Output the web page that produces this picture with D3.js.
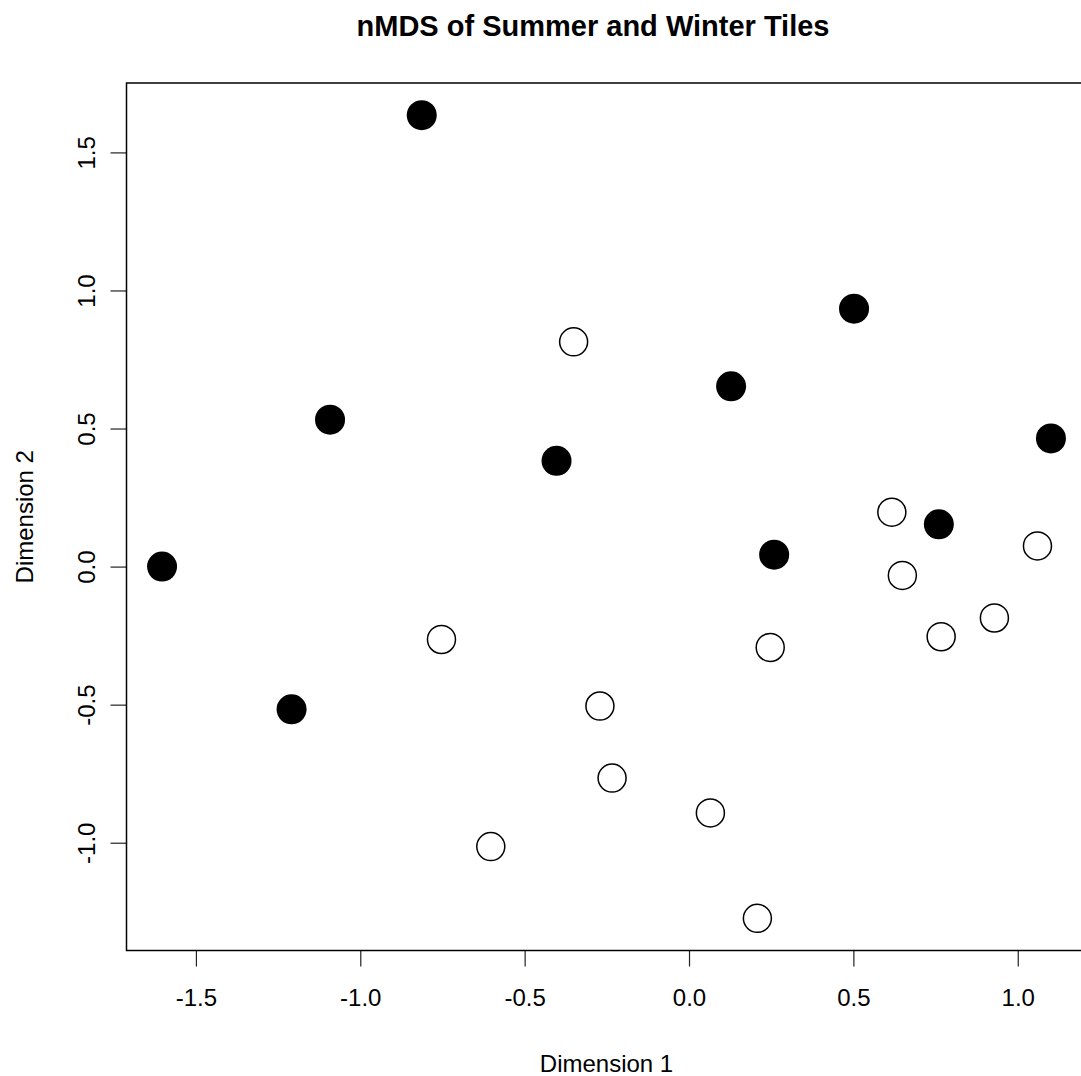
<!DOCTYPE html>
<html>
<head>
<meta charset="utf-8">
<script src="https://cdn.jsdelivr.net/npm/d3@7"></script>
<style>
body { margin: 0; background: #fff; }
text { font-family: "Liberation Sans", Arial, sans-serif; fill: #000; }
</style>
</head>
<body>
<script>
var w = 1081,
h = 1076,
// plot region (R style: data range padded 4%)
plotLeft = 126.5,
plotRight = 1086.5,
plotTop = 83,
plotBottom = 950.5;

// summer tiles (filled)
var summerX = [-0.813, -1.092, -0.403, 0.502, 0.128, 1.101, -1.603, -1.209, 0.760, 0.259];
var summerY = [1.635, 0.532, 0.383, 0.934, 0.653, 0.464, 0.000, -0.517, 0.153, 0.043];

// winter tiles (open)
var winterX = [-0.351, -0.753, -0.271, -0.234, -0.603, 0.617, 1.060, 0.649, 0.929, 0.767, 0.247, 0.065, 0.208];
var winterY = [0.814, -0.264, -0.505, -0.766, -1.014, 0.197, 0.075, -0.032, -0.186, -0.254, -0.293, -0.892, -1.274];

var xTicks = [-1.5, -1.0, -0.5, 0.0, 0.5, 1.0];
var yTicks = [-1.0, -0.5, 0.0, 0.5, 1.0, 1.5];

function padded(vals) {
    var e = d3.extent(vals), d = (e[1] - e[0]) * 0.04;
    return [e[0] - d, e[1] + d];
}

// R prints a plain hyphen for negatives
function fmt(d) {
    return d.toFixed(1);
}

var allX = summerX.concat(winterX),
allY = summerY.concat(winterY);

var x = d3.scaleLinear().domain(padded(allX)).range([plotLeft, plotRight]);
var y = d3.scaleLinear().domain(padded(allY)).range([plotBottom, plotTop]);

var svg = d3.select("body").append("svg")
.attr("width", w)
.attr("height", h);

// title
svg.append("text")
.attr("x", 593)
.attr("y", 36)
.attr("text-anchor", "middle")
.style("font-size", "29px")
.style("font-weight", "bold")
.text("nMDS of Summer and Winter Tiles");

// x axis
var xAxis = svg.append("g")
.attr("transform", "translate(0," + plotBottom + ")")
.call(d3.axisBottom(x).tickValues(xTicks).tickSize(16).tickSizeOuter(0)
      .tickPadding(22).tickFormat(fmt));
xAxis.select(".domain").remove();
xAxis.selectAll("text").style("font-size", "24px").attr("fill", "#000");
xAxis.selectAll("line").attr("stroke", "#222").attr("stroke-width", 1.2);

// y axis, labels rotated like R's default las=0
var yAxis = svg.append("g")
.attr("transform", "translate(" + plotLeft + ",0)")
.call(d3.axisLeft(y).tickValues(yTicks).tickSize(16).tickSizeOuter(0)
      .tickFormat(fmt));
yAxis.select(".domain").remove();
yAxis.selectAll("line").attr("stroke", "#222").attr("stroke-width", 1.2);
yAxis.selectAll("text")
.style("font-size", "24px")
.attr("fill", "#000")
.attr("x", 0)
.attr("y", 0)
.attr("dy", null)
.attr("text-anchor", "middle")
.attr("transform", "translate(-32,0) rotate(-90)");

// axis titles
svg.append("text")
.attr("x", (plotLeft + plotRight) / 2)
.attr("y", 1072)
.attr("text-anchor", "middle")
.style("font-size", "24px")
.text("Dimension 1");

svg.append("text")
.attr("transform", "translate(33," + (plotTop + plotBottom) / 2 + ") rotate(-90)")
.attr("text-anchor", "middle")
.style("font-size", "24px")
.text("Dimension 2");

// points
var pts = svg.append("g");
pts.selectAll("circle.winter")
.data(d3.range(winterX.length))
.enter().append("circle")
.attr("class", "winter")
.attr("cx", function(i) { return x(winterX[i]); })
.attr("cy", function(i) { return y(winterY[i]); })
.attr("r", 14)
.attr("fill", "none")
.attr("stroke", "#000")
.attr("stroke-width", 1.5);

pts.selectAll("circle.summer")
.data(d3.range(summerX.length))
.enter().append("circle")
.attr("class", "summer")
.attr("cx", function(i) { return x(summerX[i]); })
.attr("cy", function(i) { return y(summerY[i]); })
.attr("r", 15)
.attr("fill", "#000");

// box
svg.append("rect")
.attr("x", plotLeft)
.attr("y", plotTop)
.attr("width", plotRight - plotLeft)
.attr("height", plotBottom - plotTop)
.attr("fill", "none")
.attr("stroke", "#000")
.attr("stroke-width", 1.5);
</script>
</body>
</html>
